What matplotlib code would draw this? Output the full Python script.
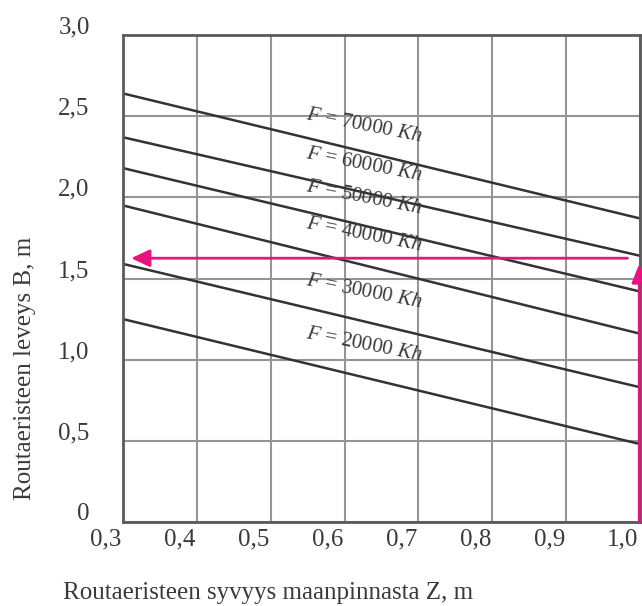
import matplotlib
matplotlib.use('Agg')
import matplotlib.pyplot as plt
import matplotlib.transforms as mtransforms

depth = [0.3, 1.0]
F_values = [70000, 60000, 50000, 40000, 30000, 20000]
B_at_03 = [2.64, 2.37, 2.18, 1.95, 1.59, 1.25]
B_at_10 = [1.87, 1.64, 1.42, 1.16, 0.83, 0.48]
label_x = 0.626
label_y = [2.44, 2.20, 1.995, 1.77, 1.42, 1.09]

x_ticks = [0.3, 0.4, 0.5, 0.6, 0.7, 0.8, 0.9, 1.0]
x_labels = ["0,3", "0,4", "0,5", "0,6", "0,7", "0,8", "0,9", "1,0"]
y_ticks = [0, 0.5, 1.0, 1.5, 2.0, 2.5, 3.0]
y_labels = ["0", "0,5", "1,0", "1,5", "2,0", "2,5", "3,0"]

# magenta reading arrows
read_B = 1.625
read_Z = 0.999

plt.rcParams['font.family'] = ['Liberation Serif', 'DejaVu Serif']
plt.rcParams['mathtext.fontset'] = 'custom'
plt.rcParams['mathtext.rm'] = 'Liberation Serif'
plt.rcParams['mathtext.it'] = 'Liberation Serif:italic'

fig = plt.figure(figsize=(6.42, 6.06), dpi=100)
ax = fig.add_axes([123 / 642, 1 - 522 / 606, 517 / 642, 487 / 606])

ax.set_xlim(0.3, 1.0)
ax.set_ylim(0, 3.0)
ax.set_xticks(x_ticks)
ax.set_xticklabels(x_labels)
ax.set_yticks(y_ticks)
ax.set_yticklabels(y_labels)
ax.tick_params(length=0, labelsize=18, colors='#3a3a3a', pad=5)
ax.tick_params(axis='y', pad=24)
ax.grid(True, color='#959595', lw=1.5)
ax.set_axisbelow(True)
for s in ax.spines.values():
    s.set_color('#5a5a5a')
    s.set_linewidth(2)

# shift tick labels like in the scan
dy = mtransforms.ScaledTranslation(0, 10 / 100, fig.dpi_scale_trans)
for lab in ax.get_yticklabels():
    lab.set_transform(lab.get_transform() + dy)
dx = mtransforms.ScaledTranslation(-17 / 100, 0, fig.dpi_scale_trans)
for lab in ax.get_xticklabels():
    lab.set_transform(lab.get_transform() + dx)

for i in range(len(F_values)):
    ax.plot(depth, [B_at_03[i], B_at_10[i]], color='#333333', lw=1.8)
    ax.text(label_x, label_y[i], r"$F$ = " + str(F_values[i]) + r" $Kh$",
            fontsize=15, color='#3a3a3a', rotation=-11,
            ha='center', va='center')

mag = '#e6147f'
ax.annotate('', xy=(0.311, read_B), xytext=(0.983, read_B),
            arrowprops=dict(arrowstyle='-|>,head_length=0.75,head_width=0.35',
                            mutation_scale=15, color=mag, lw=2,
                            shrinkA=0, shrinkB=0))
ax.annotate('', xy=(read_Z, 1.59), xytext=(read_Z, 0.0),
            arrowprops=dict(arrowstyle='-|>,head_length=0.75,head_width=0.3',
                            mutation_scale=15, color=mag, lw=2,
                            shrinkA=0, shrinkB=0),
            annotation_clip=False)

fig.text(268 / 642, 1 - 593 / 606, "Routaeristeen syvyys maanpinnasta Z, m",
         fontsize=18, color='#3a3a3a', ha='center', va='center')
fig.text(25 / 642, 1 - 368 / 606, "Routaeristeen leveys B, m",
         fontsize=18, color='#3a3a3a', ha='center', va='center', rotation=90)

plt.savefig("out.png", dpi=100)
